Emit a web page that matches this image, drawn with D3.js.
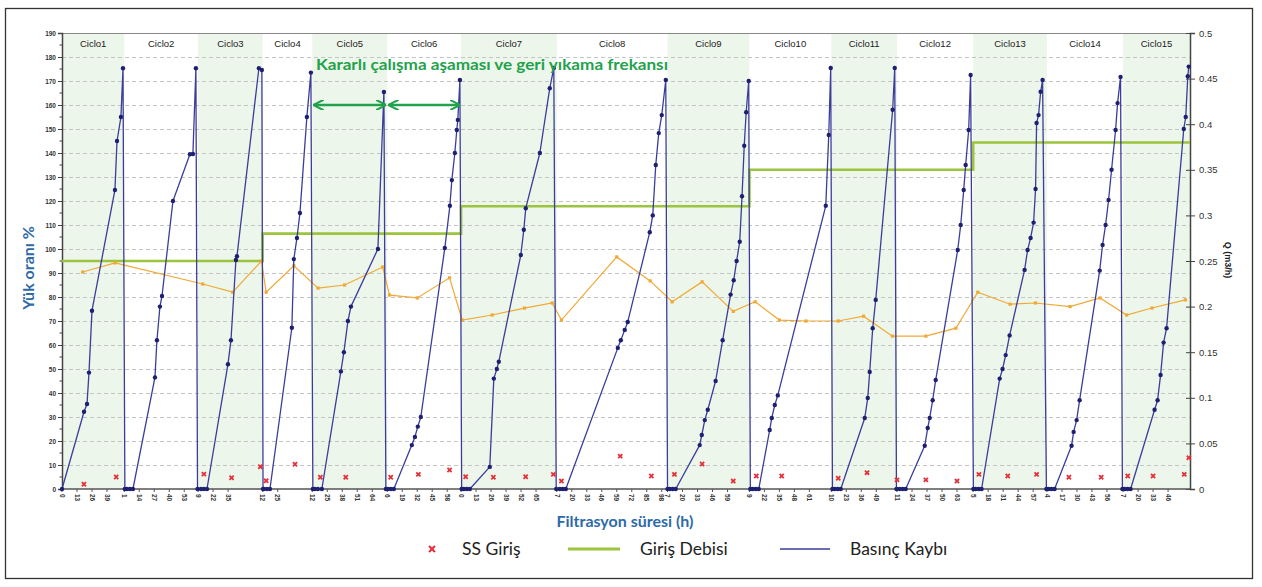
<!DOCTYPE html>
<html>
<head>
<meta charset="utf-8">
<script src="https://cdn.jsdelivr.net/npm/d3@7"></script>
<style>
  body { margin: 0; background: #fff; }
  svg { display: block; }
</style>
</head>
<body>
<svg width="1262" height="587"></svg>
<script>
// cycles: name, start hour on the cumulative time axis, and hour labels shown on the axis
var cycleNames = ['Ciclo1', 'Ciclo2', 'Ciclo3', 'Ciclo4', 'Ciclo5', 'Ciclo6', 'Ciclo7', 'Ciclo8',
  'Ciclo9', 'Ciclo10', 'Ciclo11', 'Ciclo12', 'Ciclo13', 'Ciclo14', 'Ciclo15']
var cycleStart = [0, 54, 118, 174, 217, 282, 346, 429, 525, 596, 667, 724, 790, 854, 920]
var totalHours = 978
var cycleTickLabels = [
  [0, 13, 26, 39], [1, 14, 27, 40, 53], [9, 22, 35], [12, 25], [12, 25, 38, 51, 64],
  [6, 19, 32, 45, 58], [0, 13, 26, 39, 52, 65], [7, 20, 33, 46, 59, 72, 85, 98],
  [7, 20, 33, 46, 59], [9, 22, 35, 48, 61], [10, 23, 36, 49], [11, 24, 37, 50, 63],
  [5, 18, 31, 44, 57], [4, 17, 30, 43, 56], [7, 20, 33, 46]
]

// Giris Debisi (m3/h), step changes
var girisDebisi = [[0, 0.25], [174, 0.28], [346, 0.31], [596, 0.35], [790, 0.38], [978, 0.38]]

// Yuk orani (%)
var yukOrani = [
  [18, 90.4], [46, 94.2], [122, 85.4], [148, 82], [173, 95], [177, 82], [201, 93], [222, 83.7],
  [245, 85], [278, 92.5], [284, 80.8], [308, 79.6], [336, 88], [347, 70.4], [373, 72.5],
  [401, 75.4], [425, 77.5], [433, 70.4], [481, 96.7], [510, 86.7], [529, 78], [555, 86.3],
  [582, 74], [601, 78], [622, 70.4], [645, 70], [673, 70], [695, 72], [720, 63.7], [749, 63.7],
  [775, 67], [794, 82], [822, 77], [844, 77.5], [874, 76], [900, 79.6], [923, 72.5],
  [945, 75.4], [974, 78.8]
]

// SS Giris
var ssGiris = [
  [19, 2], [47, 5], [123, 6.2], [147, 4.7], [172, 9.3], [177, 3.4], [202, 10.3], [224, 4.9],
  [246, 4.9], [285, 4.9], [309, 6.1], [336, 7.9], [350, 5.1], [374, 4.9], [402, 5.1],
  [426, 6.1], [433, 3.3], [484, 13.7], [511, 5.4], [531, 6.1], [555, 10.4], [582, 3.3],
  [602, 5.4], [624, 5.4], [673, 4.5], [698, 6.8], [724, 3.8], [749, 3.8], [776, 3.3],
  [795, 6.1], [820, 5.4], [845, 6.1], [873, 4.9], [901, 4.9], [924, 5.4], [946, 5.4],
  [973, 6.1], [977, 13]
]

// Basinc Kaybi
var basincKaybi = [
  [0, 0], [19.1, 32.2], [21.7, 35.4], [23.4, 48.5], [26, 74.3], [45.9, 124.6], [47.7, 145], [51.1, 155], [52.9, 175.3], [54.5, 0],
  [56.3, 0], [58.9, 0], [61.5, 0], [80.6, 46.5], [82.3, 62], [84.9, 76], [86.7, 80.4], [96.2, 120], [110.9, 139.5], [113.5, 139.6], [116.1, 175.3], [117.5, 0],
  [120.5, 0], [123, 0], [125.7, 0], [143.9, 52], [146.5, 62], [150.8, 95.4], [151.7, 97], [170.7, 175.3], [173.3, 174.6], [174.3, 0],
  [175, 0], [177.7, 0], [180.3, 0], [199.3, 67.2], [201, 95.8], [203.7, 104.6], [206.3, 115], [212.3, 155], [215.8, 173.5], [217.5, 0],
  [219.3, 0], [221.9, 0], [225.3, 0], [241.8, 49], [244.4, 57], [247.9, 70], [250.5, 76], [273.9, 100], [279.1, 165.4], [280.8, 0],
  [282.5, 0], [285.1, 0], [287.7, 0], [303.3, 18.3], [306, 21.7], [308.5, 26], [311.1, 30], [331.9, 100.4], [336.3, 118], [338, 128.7], [340.6, 140], [342.3, 149.6], [343.2, 153.8], [345, 170.4], [346.5, 0],
  [348.4, 0], [351, 0], [353.6, 0], [370.9, 9.2], [374.4, 46], [377, 50], [378.7, 53], [397.8, 97.5], [400.4, 108], [402.1, 117], [414.3, 140], [422.9, 167], [426.4, 175.4], [428.5, 0],
  [431.6, 0], [434.2, 0], [436.8, 0], [481.9, 58.8], [484.5, 62], [487.9, 66.3], [490.5, 69.6], [509.6, 107], [512.2, 114], [514.8, 135], [517.4, 148.3], [520, 155.8], [523.5, 170.4], [525, 0],
  [527, 0], [529.5, 0], [532.1, 0], [552.9, 18.3], [554.7, 22.5], [557.3, 28.7], [559.9, 33], [566.7, 45], [572.8, 62], [579.7, 81], [582.4, 87], [584.9, 95], [587.6, 103], [589.6, 122], [591.5, 143], [593.2, 157], [595.4, 170], [596.8, 0],
  [598.9, 0], [601.5, 0], [604.1, 0], [613.6, 24.6], [615.4, 29.6], [618, 35], [620.6, 39], [662.2, 118], [664.8, 147.5], [666.5, 175.4], [668, 0],
  [670, 0], [672.6, 0], [675.2, 0], [696, 29.6], [698.6, 37.9], [700.3, 48.8], [702.9, 67], [705.5, 78.8], [720.2, 158], [722, 175.4], [723.5, 0],
  [726.3, 0], [728.9, 0], [731.5, 0], [748, 18], [750.6, 25.4], [752.3, 29.6], [754.9, 37], [757.5, 45.4], [776.6, 99.6], [779.2, 110], [781.8, 124.6], [783.5, 135], [786.1, 149.6], [787.8, 172.5], [790.2, 0],
  [792.1, 0], [794.7, 0], [797.3, 0], [813, 46], [815.5, 50], [818.2, 55.8], [821.6, 64], [834.6, 91.3], [837.2, 99.6], [839.8, 104.6], [842.4, 111], [844.1, 125], [845, 152.5], [846.7, 155.8], [848.5, 165.5], [850.2, 170.4], [853.5, 0],
  [855.4, 0], [858, 0], [860.6, 0], [875.3, 18], [877.1, 23.8], [879.7, 28.7], [882.3, 37], [899.7, 91], [902.2, 101.7], [904.8, 110], [907.4, 120.4], [910, 133], [913.5, 149.6], [915.2, 160.8], [917.8, 171.7], [919.4, 0],
  [921.3, 0], [923.9, 0], [926.5, 0], [947.3, 33], [949.9, 37], [952.5, 47.5], [955.1, 61], [957.7, 67], [972.6, 150], [974.3, 155], [976.1, 172], [976.9, 176]
]

var svg = d3.select('svg'),
  margin = {top: 33, right: 72, bottom: 98, left: 62},
  width = +svg.attr('width') - margin.left - margin.right,
  height = +svg.attr('height') - margin.top - margin.bottom

var blue = '#3a3d9a', navy = '#1d2070', greenStep = '#9cc43c', orange = '#f0a935',
  red = '#e5303a', band = '#edf6ea', titleBlue = '#2d6aa8', arrowGreen = '#22a24c'

svg.append('rect').attr('width', 1262).attr('height', 587).attr('fill', '#fff')
svg.append('rect')
    .attr('x', 5.5).attr('y', 8.5).attr('width', 1247).attr('height', 570)
    .attr('fill', 'none').attr('stroke', '#333').attr('stroke-width', 1.3)

var x = d3.scaleLinear().domain([0, totalHours]).range([0, width]),
  y = d3.scaleLinear().domain([0, 190]).range([height, 0]),
  yQ = d3.scaleLinear().domain([0, 0.5]).range([height, 0])

var defs = svg.append('defs')
defs.append('marker')
    .attr('id', 'ah')
    .attr('viewBox', '0 0 10 10')
    .attr('refX', 9).attr('refY', 5)
    .attr('markerWidth', 4).attr('markerHeight', 4)
    .attr('orient', 'auto-start-reverse')
  .append('path')
    .attr('d', 'M0,0 L10,5 L0,10')
    .attr('fill', 'none').attr('stroke', arrowGreen).attr('stroke-width', 2)

var g = svg.append('g')
    .attr('transform', 'translate(' + margin.left + ',' + margin.top + ')')

// cycle bands
var cycleEnd = cycleStart.slice(1).concat([totalHours])
g.selectAll('.band')
  .data(cycleNames)
  .enter().append('rect')
    .attr('class', 'band')
    .attr('x', function (d, i) { return x(cycleStart[i]) })
    .attr('y', 0)
    .attr('width', function (d, i) { return x(cycleEnd[i]) - x(cycleStart[i]) })
    .attr('height', height)
    .attr('fill', function (d, i) { return i % 2 === 0 ? band : 'none' })

// grid
g.append('g')
  .selectAll('line')
  .data(d3.range(10, 190, 10))
  .enter().append('line')
    .attr('x1', 0).attr('x2', width)
    .attr('y1', function (d) { return y(d) + 0.5 })
    .attr('y2', function (d) { return y(d) + 0.5 })
    .attr('stroke', '#c4c4c4').attr('stroke-dasharray', '4,3')

// top frame line
g.append('line')
    .attr('x1', 0).attr('x2', width).attr('y1', 0.5).attr('y2', 0.5)
    .attr('stroke', '#888')

// cycle names
g.selectAll('.cname')
  .data(cycleNames)
  .enter().append('text')
    .attr('class', 'cname')
    .attr('x', function (d, i) { return (x(cycleStart[i]) + x(cycleEnd[i])) / 2 })
    .attr('y', 14)
    .attr('text-anchor', 'middle')
    .attr('font-family', 'Liberation Sans, Arial, sans-serif')
    .attr('font-size', 9.5)
    .attr('fill', '#1a1a1a')
    .text(function (d) { return d })

// left axis
var yAxis = d3.axisLeft(y).tickValues(d3.range(0, 191, 10)).tickSize(4).tickFormat(d3.format('d'))
var yAxisG = g.append('g').call(yAxis)
yAxisG.select('.domain').attr('stroke', '#444').attr('stroke-width', 1.5)
yAxisG.selectAll('.tick line').attr('stroke', '#444')
yAxisG.selectAll('.tick text')
    .attr('font-family', 'Liberation Sans, Arial, sans-serif')
    .attr('font-size', 6.5).attr('font-weight', 'bold').attr('fill', '#333').attr('x', -6)
g.append('g').selectAll('line')
  .data(d3.range(5, 190, 10))
  .enter().append('line')
    .attr('x1', -2.5).attr('x2', 0)
    .attr('y1', function (d) { return y(d) }).attr('y2', function (d) { return y(d) })
    .attr('stroke', '#444')

// right axis
var yQAxis = d3.axisRight(yQ).tickValues(d3.range(0, 0.5001, 0.05)).tickSize(5)
    .tickFormat(function (d) { return +d.toFixed(2) })
var yQG = g.append('g').attr('transform', 'translate(' + width + ',0)').call(yQAxis)
yQG.select('.domain').attr('stroke', '#444').attr('stroke-width', 1.5)
yQG.selectAll('.tick line').attr('stroke', '#444').attr('x1', -4)
yQG.selectAll('.tick text')
    .attr('font-family', 'Liberation Sans, Arial, sans-serif')
    .attr('font-size', 9.5).attr('fill', '#333').attr('x', 9)

// bottom axis with per-cycle hour labels
var xTicks = []
cycleTickLabels.forEach(function (labels, c) {
  labels.forEach(function (lab) {
    xTicks.push({h: cycleStart[c] + lab - labels[0], label: lab})
  })
})
g.append('line')
    .attr('x1', 0).attr('x2', width).attr('y1', height).attr('y2', height)
    .attr('stroke', '#555').attr('stroke-width', 1.5)
var xt = g.append('g').selectAll('g')
  .data(xTicks)
  .enter().append('g')
    .attr('transform', function (d) { return 'translate(' + x(d.h) + ',' + height + ')' })
xt.append('line').attr('y1', 0).attr('y2', 3).attr('stroke', '#555')
xt.append('text')
    .attr('transform', 'translate(0,5) rotate(90)')
    .attr('dy', '0.35em')
    .attr('font-family', 'Liberation Sans, Arial, sans-serif')
    .attr('font-size', 6.5).attr('font-weight', 'bold').attr('fill', '#333')
    .text(function (d) { return d.label })

// Giris Debisi step line
var stepLine = d3.line()
    .curve(d3.curveStepAfter)
    .x(function (d) { return x(d[0]) })
    .y(function (d) { return yQ(d[1]) })
g.append('path')
    .datum(girisDebisi)
    .attr('fill', 'none').attr('stroke', greenStep).attr('stroke-width', 2.6)
    .attr('d', stepLine)

// Yuk orani
var line = d3.line()
    .x(function (d) { return x(d[0]) })
    .y(function (d) { return y(d[1]) })
g.append('path')
    .datum(yukOrani)
    .attr('fill', 'none').attr('stroke', orange).attr('stroke-width', 1.2)
    .attr('d', line)
g.selectAll('.yk')
  .data(yukOrani)
  .enter().append('rect')
    .attr('class', 'yk')
    .attr('x', function (d) { return x(d[0]) - 1.6 })
    .attr('y', function (d) { return y(d[1]) - 1.6 })
    .attr('width', 3.2).attr('height', 3.2)
    .attr('fill', orange)

// Basinc Kaybi
g.append('path')
    .datum(basincKaybi)
    .attr('fill', 'none').attr('stroke', blue).attr('stroke-width', 1.3)
    .attr('stroke-linejoin', 'round')
    .attr('d', line)
g.selectAll('.bk')
  .data(basincKaybi)
  .enter().append('circle')
    .attr('class', 'bk')
    .attr('cx', function (d) { return x(d[0]) })
    .attr('cy', function (d) { return y(d[1]) })
    .attr('r', 2.2)
    .attr('fill', navy)

// SS Giris markers
var xSym = d3.symbol().type(d3.symbolX).size(13)
g.selectAll('.ss')
  .data(ssGiris)
  .enter().append('path')
    .attr('class', 'ss')
    .attr('transform', function (d) { return 'translate(' + x(d[0]) + ',' + y(d[1]) + ')' })
    .attr('d', xSym)
    .attr('stroke', red).attr('stroke-width', 1.8).attr('fill', 'none')

// annotation arrows between cycle 5, 6 and 7 starts
;[[cycleStart[4], cycleStart[5]], [cycleStart[5], cycleStart[6]]].forEach(function (p) {
  g.append('line')
      .attr('x1', x(p[0]) + 2).attr('x2', x(p[1]) - 2)
      .attr('y1', y(160)).attr('y2', y(160))
      .attr('stroke', arrowGreen).attr('stroke-width', 2.6)
      .attr('marker-start', 'url(#ah)').attr('marker-end', 'url(#ah)')
})
svg.append('text')
    .attr('x', 316).attr('y', 70)
    .attr('textLength', 352).attr('lengthAdjust', 'spacingAndGlyphs')
    .attr('font-family', 'Lato, Open Sans, sans-serif')
    .attr('font-weight', 'bold').attr('font-size', 16)
    .attr('fill', arrowGreen)
    .text('Kararlı çalışma aşaması ve geri yıkama frekansı')

// axis titles
svg.append('text')
    .attr('transform', 'translate(34,268) rotate(-90)')
    .attr('text-anchor', 'middle')
    .attr('font-family', 'Lato, Open Sans, sans-serif')
    .attr('font-weight', 'bold').attr('font-size', 16)
    .attr('fill', titleBlue)
    .text('Yük oranı %')
svg.append('text')
    .attr('transform', 'translate(1225,260) rotate(90)')
    .attr('text-anchor', 'middle')
    .attr('font-family', 'Liberation Sans, Arial, sans-serif')
    .attr('font-weight', 'bold').attr('font-size', 9)
    .attr('fill', '#222')
    .text('Q (m3/h)')
svg.append('text')
    .attr('x', 625).attr('y', 527)
    .attr('text-anchor', 'middle')
    .attr('font-family', 'Lato, Open Sans, sans-serif')
    .attr('font-weight', 'bold').attr('font-size', 16)
    .attr('fill', titleBlue)
    .text('Filtrasyon süresi (h)')

// legend
var legend = svg.append('g').attr('transform', 'translate(0,549)')
legend.append('path')
    .attr('transform', 'translate(432,0)')
    .attr('d', d3.symbol().type(d3.symbolX).size(24))
    .attr('stroke', red).attr('stroke-width', 2).attr('fill', 'none')
legend.append('line').attr('x1', 568).attr('x2', 620).attr('y1', 0).attr('y2', 0)
    .attr('stroke', greenStep).attr('stroke-width', 3)
legend.append('line').attr('x1', 780).attr('x2', 830).attr('y1', 0).attr('y2', 0)
    .attr('stroke', blue).attr('stroke-width', 1.5)
legend.selectAll('text')
  .data([['SS Giriş', 462], ['Giriş Debisi', 640], ['Basınç Kaybı', 850]])
  .enter().append('text')
    .attr('x', function (d) { return d[1] })
    .attr('dy', '0.35em')
    .attr('font-family', 'Lato, Open Sans, sans-serif')
    .attr('font-size', 17.5).attr('fill', '#222')
    .text(function (d) { return d[0] })
</script>
</body>
</html>
